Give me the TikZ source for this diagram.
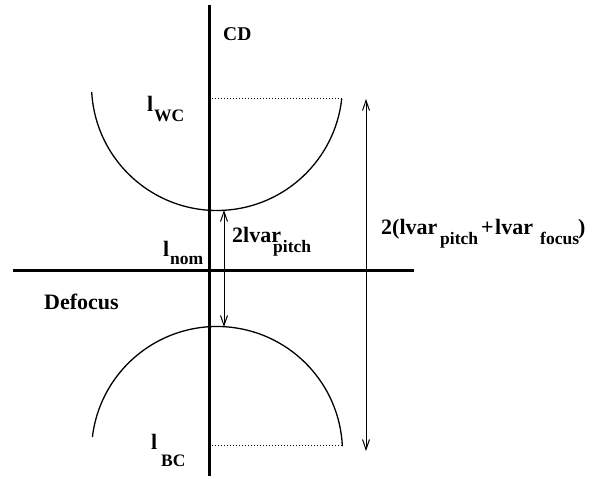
\documentclass[tikz,border=0pt]{standalone}
\usepackage{fontspec}
\setmainfont{Liberation Serif}[BoldFont={Liberation Serif Bold}]
\newfontfamily\tmsbold{Liberation Serif Bold}
\usetikzlibrary{arrows.meta}
\begin{document}
\begin{tikzpicture}[x=1pt,y=1pt,
  axis/.style={line width=3pt},
  thin/.style={line width=1.3pt},
  dimline/.style={line width=1pt,{Straight Barb[length=10pt,width=7pt]}-{Straight Barb[length=10pt,width=7pt]}},
  guide/.style={line width=1pt,dotted},
  lbl/.style={font=\tmsbold\fontsize{22}{26}\selectfont,inner sep=0pt,anchor=base west},
  sb/.style={font=\tmsbold\fontsize{17.5}{21}\selectfont,inner sep=0pt,anchor=base west}]
\useasboundingbox (0,0) rectangle (595,479);
% coordinates
\coordinate (vtop) at (209,474);
\coordinate (vbot) at (209,3);
\coordinate (hl) at (13,208);
\coordinate (hr) at (414,208);
\coordinate (wcl) at (209,380);
\coordinate (wcr) at (342,380);
\coordinate (bcl) at (209,33);
\coordinate (bcr) at (342,33);
\coordinate (la1) at (366,380);
\coordinate (la2) at (366,28);
\coordinate (sa1) at (224,269);
\coordinate (sa2) at (224,152);
\coordinate (cup) at (217,394);
\coordinate (clo) at (217,27);
% axes
\draw[axis] (vtop) -- (vbot);
\draw[axis] (hl) -- (hr);
% arcs
\draw[thin] ([shift={(183.2:125.5)}]cup) arc[start angle=183.2,end angle=353.6,radius=125.5];
\draw[thin] ([shift={(173.2:125.5)}]clo) arc[start angle=173.2,end angle=2.7,radius=125.5];
% dotted guides
\draw[guide] (wcl) -- (wcr);
\draw[guide] (bcl) -- (bcr);
% dimension arrows
\draw[dimline] (la1) -- (la2);
\draw[dimline] (sa1) -- (sa2);
% labels
\node[lbl,font=\tmsbold\fontsize{19.5}{23}\selectfont] (cd) at (223,438) {CD};
\node[lbl] (lwc) at (147,367) {l};
\node[sb] (wc) at (154,357) {WC};
\node[lbl] (lbc) at (151,29) {l};
\node[sb] (bc) at (161,12) {BC};
\node[lbl] (lnom) at (163,222) {l};
\node[sb] (nom) at (170,214) {nom};
\node[lbl] (defocus) at (44,169) {Defocus};
\node[lbl] (lvp) at (232,236) {2lvar};
\node[sb] (pitcha) at (273,226) {pitch};
\node[lbl] (tot) at (381,244) {2(lvar};
\node[sb] (pitchb) at (440,234) {pitch};
\node[lbl] (plus) at (481,244) {+};
\node[lbl] (lvf) at (495,244) {lvar};
\node[sb] (focus) at (540,234) {focus};
\node[lbl] (rpar) at (578,244) {)};
\end{tikzpicture}
\end{document}
